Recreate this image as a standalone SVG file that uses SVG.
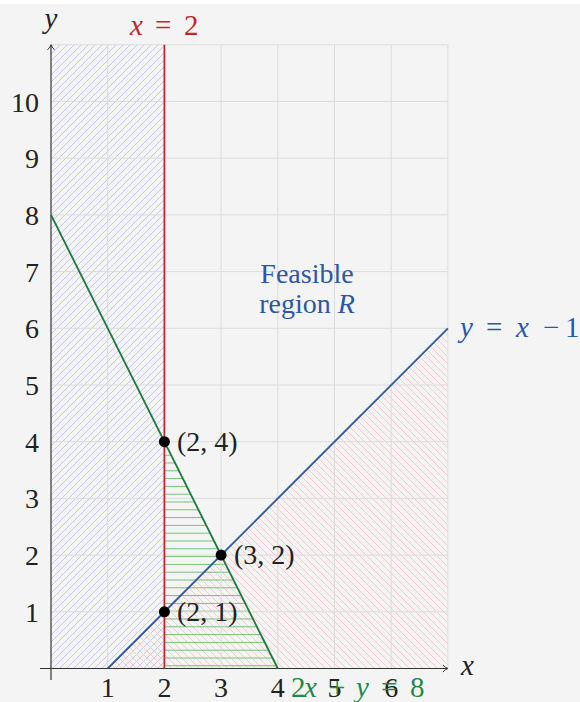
<svg xmlns="http://www.w3.org/2000/svg" width="580" height="702" viewBox="0 0 580 702">
<style>
  .t { font-family: "Liberation Serif", "DejaVu Serif", serif; font-size: 28px; fill: #222; }
  .m { font-size: 29px; }
  .i { font-style: italic; }
  .grid { stroke: #dcdcdc; stroke-width: 1; fill: none; }
  .axis { stroke: #333; stroke-width: 1.2; fill: none; }
  .red { stroke: #c0282d; stroke-width: 1.8; fill: none; }
  .green { stroke: #1a7a3c; stroke-width: 1.8; fill: none; }
  .blue { stroke: #2a58a6; stroke-width: 1.8; fill: none; }
  .pt { fill: #000; }
  .tr { fill: #c0282d; }
  .tg { fill: #1f8a45; }
  .tb { fill: #2a58a6; }
</style>
<defs>
  <pattern id="hBlue" patternUnits="userSpaceOnUse" width="7" height="7">
    <path d="M0,7 L7,0 M-1,1 L1,-1 M6,8 L8,6" stroke="#c2c2f6" stroke-width="0.9"/>
  </pattern>
  <pattern id="hRed" patternUnits="userSpaceOnUse" width="7" height="7">
    <path d="M0,0 L7,7 M-1,6 L1,8 M6,-1 L8,1" stroke="#f7c6c6" stroke-width="0.9"/>
  </pattern>
  <pattern id="hGreen" patternUnits="userSpaceOnUse" x="0" y="2.3" width="10" height="7.8">
    <path d="M0,0.5 L10,0.5" stroke="#72c272" stroke-width="1"/>
  </pattern>
  <marker id="arr" markerWidth="10" markerHeight="10" refX="0" refY="0" viewBox="-6 -5 8 10" orient="auto" markerUnits="userSpaceOnUse">
    <path d="M-5,-3.5 Q-2,-0.5 0,0 Q-2,0.5 -5,3.5" stroke="#333" stroke-width="1" fill="none"/>
  </marker>
</defs>
<rect x="0" y="0" width="580" height="702" fill="#ffffff"/>
<rect x="0" y="4" width="580" height="698" fill="#f4f4f4"/>

<g id="regions">
  <rect x="51" y="44.8" width="113.4" height="623.7" fill="url(#hBlue)"/>
  <polygon points="107.7,668.5 447.9,668.5 447.9,328.3" fill="url(#hRed)"/>
  <polygon points="164.4,668.5 164.4,441.7 277.8,668.5" fill="url(#hGreen)"/>
</g>

<g id="grid" class="grid">
  <path d="M107.7,44.8 V668.5 M164.4,44.8 V668.5 M221.1,44.8 V668.5 M277.8,44.8 V668.5 M334.5,44.8 V668.5 M391.2,44.8 V668.5 M447.9,44.8 V668.5"/>
  <path d="M51,611.8 H447.9 M51,555.1 H447.9 M51,498.4 H447.9 M51,441.7 H447.9 M51,385 H447.9 M51,328.3 H447.9 M51,271.6 H447.9 M51,214.9 H447.9 M51,158.2 H447.9 M51,101.5 H447.9 M51,44.8 H447.9"/>
</g>

<g id="connectors">
  <line class="axis" x1="40" y1="668.5" x2="447.9" y2="668.5" marker-end="url(#arr)"/>
  <line class="axis" x1="51" y1="680" x2="51" y2="44.8" marker-end="url(#arr)"/>
  <line class="green" x1="51" y1="214.9" x2="277.8" y2="668.5"/>
  <line class="blue" x1="107.7" y1="668.5" x2="447.9" y2="328.3"/>
  <line class="red" x1="164.4" y1="44.8" x2="164.4" y2="668.5"/>
</g>

<g id="ticks-y" class="t" text-anchor="end">
  <text x="39" y="622">1</text>
  <text x="39" y="565">2</text>
  <text x="39" y="508">3</text>
  <text x="39" y="452">4</text>
  <text x="39" y="395">5</text>
  <text x="39" y="338">6</text>
  <text x="39" y="282">7</text>
  <text x="39" y="225">8</text>
  <text x="39" y="168">9</text>
  <text x="39" y="112">10</text>
</g>
<g id="ticks-x" class="t" text-anchor="middle">
  <text x="107.7" y="697">1</text>
  <text x="164.4" y="697">2</text>
  <text x="221.1" y="697">3</text>
  <text x="277.8" y="697">4</text>
  <text x="334.5" y="697">5</text>
  <text x="391.2" y="697">6</text>
</g>

<g id="axis-labels">
  <text class="t m i" x="51" y="28" text-anchor="middle">y</text>
  <text class="t m i" x="461" y="675">x</text>
</g>

<g id="line-x2">
  <text class="t m tr"><tspan class="i" x="130" y="35">x</tspan><tspan x="155" y="35">=</tspan><tspan x="184" y="35">2</tspan></text>
</g>
<g id="line-yx1">
  <text class="t m tb"><tspan class="i" x="460" y="337">y</tspan><tspan x="486" y="337">=</tspan><tspan class="i" x="516" y="337">x</tspan><tspan x="543" y="337">−</tspan><tspan x="565" y="337">1</tspan></text>
</g>
<g id="line-2xy8">
  <text class="t m tg"><tspan x="291" y="697">2</tspan><tspan class="i" x="304" y="697">x</tspan><tspan x="329" y="697">+</tspan><tspan class="i" x="356" y="697">y</tspan><tspan x="381" y="697">=</tspan><tspan x="410" y="697">8</tspan></text>
</g>

<g id="feasible-label" class="t tb" text-anchor="middle">
  <text x="307" y="283">Feasible</text>
  <text x="307" y="313">region <tspan class="i">R</tspan></text>
</g>

<g id="point-2-4">
  <circle class="pt" cx="164.4" cy="441.7" r="5.5"/>
  <text class="t" x="177" y="451">(2, 4)</text>
</g>
<g id="point-3-2">
  <circle class="pt" cx="221.1" cy="555.1" r="5.5"/>
  <text class="t" x="234" y="564">(3, 2)</text>
</g>
<g id="point-2-1">
  <circle class="pt" cx="164.4" cy="611.8" r="5.5"/>
  <text class="t" x="177" y="621">(2, 1)</text>
</g>
</svg>
